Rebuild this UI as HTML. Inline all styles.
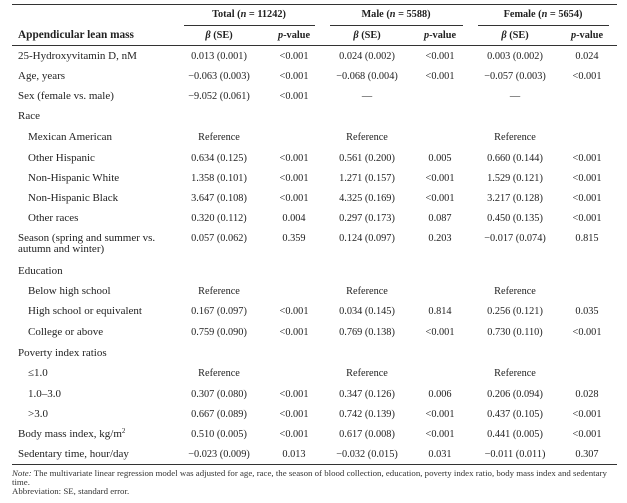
<!DOCTYPE html>
<html><head><meta charset="utf-8"><style>
body{margin:0;width:627px;height:503px;background:#fff;position:relative;font-family:"Liberation Serif",serif;font-size:10.3px;color:#222;overflow:hidden}
div{position:absolute;white-space:nowrap}
.c{transform:translateX(-50%)}
.b{font-weight:bold}
.l{font-size:11px}
.r{height:0;border-top:1.3px solid #333}
.s{font-size:8.85px;color:#333}
sup{font-size:7px;line-height:0;vertical-align:4px}
</style></head><body>
<div class="r" style="left:12px;width:605px;top:4px;border-top-width:1.6px"></div>
<div class="b c" style="left:249px;top:9px">Total (<i>n</i> = 11242)</div>
<div class="b c" style="left:396px;top:9px">Male (<i>n</i> = 5588)</div>
<div class="b c" style="left:543px;top:9px">Female (<i>n</i> = 5654)</div>
<div class="r" style="left:184px;width:131px;top:25px;border-top-width:1px"></div>
<div class="r" style="left:330px;width:133px;top:25px;border-top-width:1px"></div>
<div class="r" style="left:478px;width:131px;top:25px;border-top-width:1px"></div>
<div class="b" style="left:18px;top:29px;font-size:11.3px">Appendicular lean mass</div>
<div class="b c" style="left:219px;top:30px"><i>β</i> (SE)</div>
<div class="b c" style="left:294px;top:30px"><i>p</i>-value</div>
<div class="b c" style="left:367px;top:30px"><i>β</i> (SE)</div>
<div class="b c" style="left:440px;top:30px"><i>p</i>-value</div>
<div class="b c" style="left:515px;top:30px"><i>β</i> (SE)</div>
<div class="b c" style="left:587px;top:30px"><i>p</i>-value</div>
<div class="r" style="left:12px;width:605px;top:45px;border-top-width:1px"></div>
<div id="rows"></div>
<script>
const rows=[
[50,"25-Hydroxyvitamin D, nM",0,"0.013 (0.001)","&lt;0.001","0.024 (0.002)","&lt;0.001","0.003 (0.002)","0.024"],
[70,"Age, years",0,"−0.063 (0.003)","&lt;0.001","−0.068 (0.004)","&lt;0.001","−0.057 (0.003)","&lt;0.001"],
[90,"Sex (female vs. male)",0,"−9.052 (0.061)","&lt;0.001","—","","—",""],
[110,"Race",0],
[131,"Mexican American",1,"Reference","","Reference","","Reference",""],
[152,"Other Hispanic",1,"0.634 (0.125)","&lt;0.001","0.561 (0.200)","0.005","0.660 (0.144)","&lt;0.001"],
[172,"Non-Hispanic White",1,"1.358 (0.101)","&lt;0.001","1.271 (0.157)","&lt;0.001","1.529 (0.121)","&lt;0.001"],
[192,"Non-Hispanic Black",1,"3.647 (0.108)","&lt;0.001","4.325 (0.169)","&lt;0.001","3.217 (0.128)","&lt;0.001"],
[212,"Other races",1,"0.320 (0.112)","0.004","0.297 (0.173)","0.087","0.450 (0.135)","&lt;0.001"],
[232,"Season (spring and summer vs.<br>autumn and winter)",0,"0.057 (0.062)","0.359","0.124 (0.097)","0.203","−0.017 (0.074)","0.815"],
[265,"Education",0],
[285,"Below high school",1,"Reference","","Reference","","Reference",""],
[305,"High school or equivalent",1,"0.167 (0.097)","&lt;0.001","0.034 (0.145)","0.814","0.256 (0.121)","0.035"],
[326,"College or above",1,"0.759 (0.090)","&lt;0.001","0.769 (0.138)","&lt;0.001","0.730 (0.110)","&lt;0.001"],
[347,"Poverty index ratios",0],
[367,"≤1.0",1,"Reference","","Reference","","Reference",""],
[388,"1.0–3.0",1,"0.307 (0.080)","&lt;0.001","0.347 (0.126)","0.006","0.206 (0.094)","0.028"],
[408,">3.0",1,"0.667 (0.089)","&lt;0.001","0.742 (0.139)","&lt;0.001","0.437 (0.105)","&lt;0.001"],
[428,"Body mass index, kg/m<sup>2</sup>",0,"0.510 (0.005)","&lt;0.001","0.617 (0.008)","&lt;0.001","0.441 (0.005)","&lt;0.001"],
[448,"Sedentary time, hour/day",0,"−0.023 (0.009)","0.013","−0.032 (0.015)","0.031","−0.011 (0.011)","0.307"]];
const xs=[219,294,367,440,515,587];let h="";
for(const r of rows){h+=`<div class="l" style="left:${r[2]?28:18}px;top:${r[0]}px;line-height:11px;padding-top:1px">${r[1]}</div>`;
for(let i=0;i<6;i++){if(r[3+i])h+=`<div class="c" style="left:${xs[i]}px;top:${r[0]}px;line-height:13px">${r[3+i]}</div>`;}}
document.getElementById("rows").outerHTML=h;
</script>
<div class="r" style="left:12px;width:605px;top:464px;border-top-width:1.6px"></div>
<div class="s" style="left:12px;top:468px"><i>Note:</i> The multivariate linear regression model was adjusted for age, race, the season of blood collection, education, poverty index ratio, body mass index and sedentary</div>
<div class="s" style="left:12px;top:477px">time.</div>
<div class="s" style="left:12px;top:486px">Abbreviation: SE, standard error.</div>
</body></html>
